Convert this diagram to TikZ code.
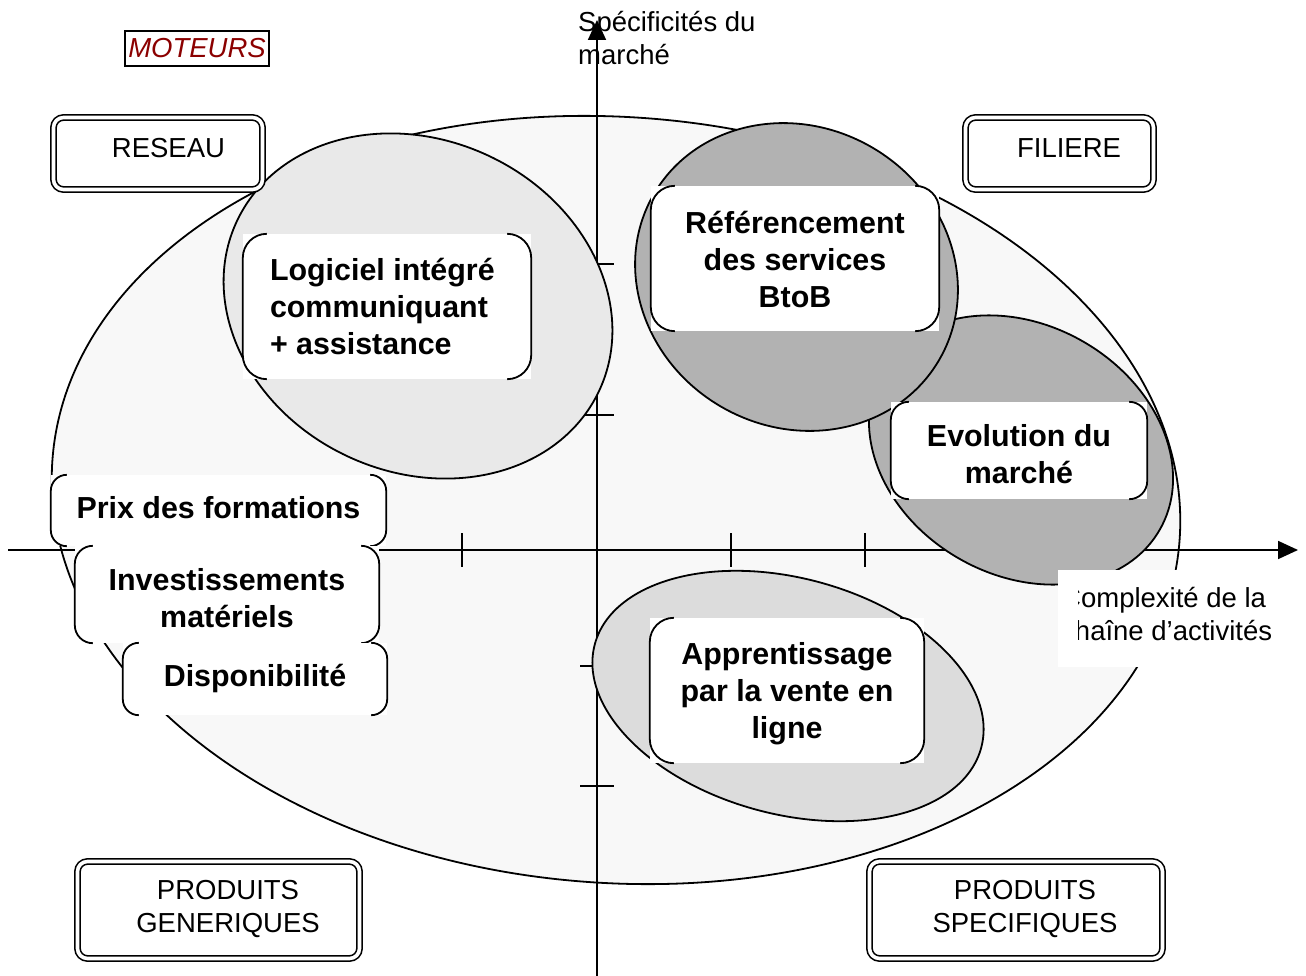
\documentclass[tikz,border=0pt]{standalone}
\usepackage{fontspec}
\setmainfont{Liberation Sans}
\usetikzlibrary{arrows.meta}
\definecolor{bigfill}{HTML}{F8F8F8}
\definecolor{lightfill}{HTML}{E9E9E9}
\definecolor{midfill}{HTML}{DCDCDC}
\definecolor{darkfill}{HTML}{B2B2B2}
\definecolor{motred}{RGB}{139,0,0}
\tikzset{
  lw/.style={line width=1.8pt},
  blob/.style={lw, draw=black},
  axis/.style={lw, -{Triangle[length=20pt,width=18pt]}},
  tick/.style={lw},
  bkbox/.style={fill=white, inner sep=0pt},
  bktext/.style={inner sep=0pt, align=center,
    font=\fontsize{30.4}{37}\selectfont\bfseries},
  brk/.style={lw, rounded corners=#1},
  dbox/.style={draw=black, line width=1.6pt, double, double distance=3.6pt,
    rounded corners=10pt, fill=white, inner sep=0pt},
  lbl/.style={inner sep=0pt, align=center, font=\fontsize{27.5}{33}\selectfont},
}
% left and right brackets around a white text block
\newcommand\brackets[2]{%
  \draw[brk=#2] ([xshift=#2]#1.north west) -- (#1.north west) -- (#1.south west) -- ([xshift=#2]#1.south west);
  \draw[brk=#2] ([xshift=-#2]#1.north east) -- (#1.north east) -- (#1.south east) -- ([xshift=-#2]#1.south east);}
\begin{document}
\begin{tikzpicture}[x=1pt,y=-1pt]
\useasboundingbox (0,0) rectangle (1306,976);
\fill[white] (0,0) rectangle (1306,976);

% outer field
\draw[blob, fill=bigfill] (616,500) ellipse [x radius=565pt, y radius=383pt, rotate=-4];

% axes
\coordinate (xs) at (8,550);
\coordinate (xe) at (1298,550);
\coordinate (ys) at (597,976);
\coordinate (ye) at (597,20);
\draw[axis] (xs) -- (xe);
\draw[axis] (ys) -- (ye);
\foreach \tx in {462,731,865} \draw[tick] (\tx,533) -- (\tx,567);
\foreach \ty in {264,415,666,786} \draw[tick] (580,\ty) -- (614,\ty);

% groups
\draw[blob, fill=lightfill] (418,306) ellipse [x radius=200pt, y radius=166pt, rotate=-25];
\draw[blob, fill=darkfill] (1021,450) ellipse [x radius=160pt, y radius=125pt, rotate=-30];
\draw[blob, fill=darkfill] (796.5,277) ellipse [x radius=165pt, y radius=150pt, rotate=-30];
\draw[blob, fill=midfill] (788,696) ellipse [x radius=200pt, y radius=118pt, rotate=-15];

% bracketed labels
\node[bkbox, minimum width=288pt, minimum height=145pt] (logi) at (387,306.5) {};
\brackets{logi}{24pt}
\node[bktext] (logit) at ([xshift=-4pt]logi.center)
  {\begin{minipage}{226pt}\raggedright Logiciel intégré\\communiquant\\+ assistance\end{minipage}};

\node[bkbox, minimum width=288pt, minimum height=145pt] (ref) at (795,258.5) {};
\brackets{ref}{24pt}
\node[bktext] (reft) at ([yshift=-1pt]ref.center) {Référencement\\des services\\BtoB};

\node[bkbox, minimum width=256pt, minimum height=97pt] (evol) at (1019,450.5) {};
\brackets{evol}{18pt}
\node[bktext] (evolt) at ([yshift=-4pt]evol.center) {Evolution du\\marché};

\node[bkbox, minimum width=274pt, minimum height=145pt] (appr) at (787,690.5) {};
\brackets{appr}{24pt}
\node[bktext] (apprt) at ([yshift=-3pt]appr.center) {Apprentissage\\par la vente en\\ligne};

\node[bkbox, minimum width=335pt, minimum height=71pt] (prix) at (218.5,510.5) {};
\brackets{prix}{16pt}
\node[bktext] (prixt) at ([yshift=3pt]prix.center) {Prix des formations};

\node[bkbox, minimum width=304pt, minimum height=97pt] (inv) at (227,594.5) {};
\brackets{inv}{18pt}
\node[bktext] (invt) at ([yshift=-4pt]inv.center) {Investissements\\matériels};

\node[bkbox, minimum width=264pt, minimum height=72pt] (dispo) at (255,679) {};
\brackets{dispo}{16pt}
\node[bktext] (dispot) at (dispo.center) {Disponibilité};

% corner boxes
\node[dbox, minimum width=209pt, minimum height=72pt] (reseau) at (158,153.5) {};
\node[lbl] (reseaut) at (168.5,148) {RESEAU};
\node[dbox, minimum width=188pt, minimum height=72pt] (filiere) at (1059.5,153.5) {};
\node[lbl] (filieret) at (1069,148) {FILIERE};
\node[dbox, minimum width=282pt, minimum height=97pt] (gen) at (218.5,910) {};
\node[lbl] (gent) at (228,908.5) {PRODUITS\\GENERIQUES};
\node[dbox, minimum width=293pt, minimum height=97pt] (spec) at (1016,910) {};
\node[lbl] (spect) at (1025,908.5) {PRODUITS\\SPECIFIQUES};

% title tag
\node[draw=black, line width=1.8pt, inner sep=0pt, minimum width=144pt, minimum height=35pt,
  font=\fontsize{27.5}{33}\selectfont\itshape, text=motred] (moteurs) at (197,48.5) {MOTEURS};

% axis captions
\node[lbl, align=left, anchor=west] (ycap) at (578,38.5) {Spécificités du\\marché};
\fill[white] (1058,570) rectangle (1306,667);
\begin{scope}
  \clip (1078,570) rectangle (1306,667);
  \node[lbl, align=left, anchor=west] (xcap) at (1061,614.5) {Complexité de la\\chaîne d’activités};
\end{scope}
\end{tikzpicture}
\end{document}
